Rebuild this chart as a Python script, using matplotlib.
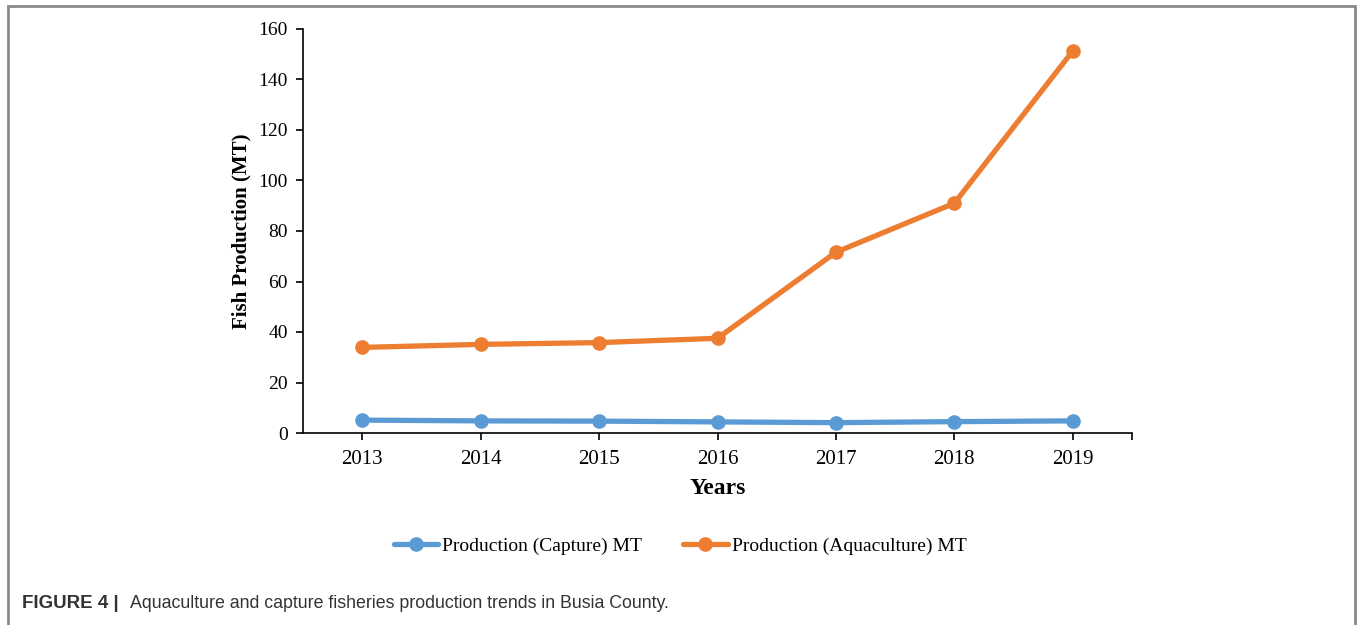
import matplotlib
matplotlib.use("Agg")
import matplotlib.pyplot as plt
from matplotlib.patches import Rectangle

# data
years = ["2013", "2014", "2015", "2016", "2017", "2018", "2019"]
capture = [5.1, 4.8, 4.7, 4.4, 4.1, 4.5, 4.8]
aquaculture = [33.9, 35.1, 35.8, 37.5, 71.6, 91.0, 151.3]
y_ticks = [0, 20, 40, 60, 80, 100, 120, 140, 160]

blue = "#5B9BD5"
orange = "#ED7D31"
serif = ["Liberation Serif", "DejaVu Serif"]
W, H = 1358, 625

fig = plt.figure(figsize=(W / 100, H / 100), dpi=100)
ax = fig.add_axes([303 / W, 1 - 433 / H, (1132 - 303) / W, (433 - 29) / H])

x = list(range(len(years)))
ax.plot(x, capture, color=blue, lw=3.8, marker="o", ms=9.5,
        label="Production (Capture) MT", solid_capstyle="round")
ax.plot(x, aquaculture, color=orange, lw=3.8, marker="o", ms=9.5,
        label="Production (Aquaculture) MT", solid_capstyle="round")

ax.set_xlim(-0.5, len(years) - 0.5)
ax.set_ylim(0, 160)
ax.set_yticks(y_ticks)
ax.set_yticklabels([str(t) for t in y_ticks], fontfamily=serif, fontsize=14)
ax.set_xticks(x + [len(years) - 0.5])
ax.set_xticklabels(years + [""], fontfamily=serif, fontsize=15)
ax.tick_params(axis="both", direction="out", length=5, width=1.2, color="black")
ax.tick_params(axis="x", pad=7)
ax.tick_params(axis="y", pad=6)

for side in ["top", "right"]:
    ax.spines[side].set_visible(False)
for side in ["left", "bottom"]:
    ax.spines[side].set_linewidth(1.2)

ax.set_xlabel("Years", fontfamily=serif, fontsize=17, fontweight="bold", labelpad=7)
ax.set_ylabel("Fish Production (MT)", fontfamily=serif, fontsize=15,
              fontweight="bold", labelpad=5)

fig.legend(loc="center", bbox_to_anchor=(680 / W, 1 - 546 / H), ncol=2,
           frameon=False, prop={"family": serif, "size": 14},
           handlelength=2.3, handletextpad=0.2, columnspacing=2.1)

# frame around the figure panel
fig.patches.append(Rectangle((8 / W, -0.05), (1355 - 8) / W, 1.05 - 6 / H,
                             transform=fig.transFigure, fill=False,
                             edgecolor="#8a8a8a", lw=2))

fig.text(22 / W, 1 - 604 / H, "FIGURE 4 |", fontfamily="Liberation Sans",
         fontsize=13.5, fontweight="bold", color="#333333", va="center")
fig.text(130 / W, 1 - 604 / H,
         "Aquaculture and capture fisheries production trends in Busia County.",
         fontfamily="Liberation Sans", fontsize=12.8, color="#333333", va="center")

fig.savefig("out.png", dpi=100)
